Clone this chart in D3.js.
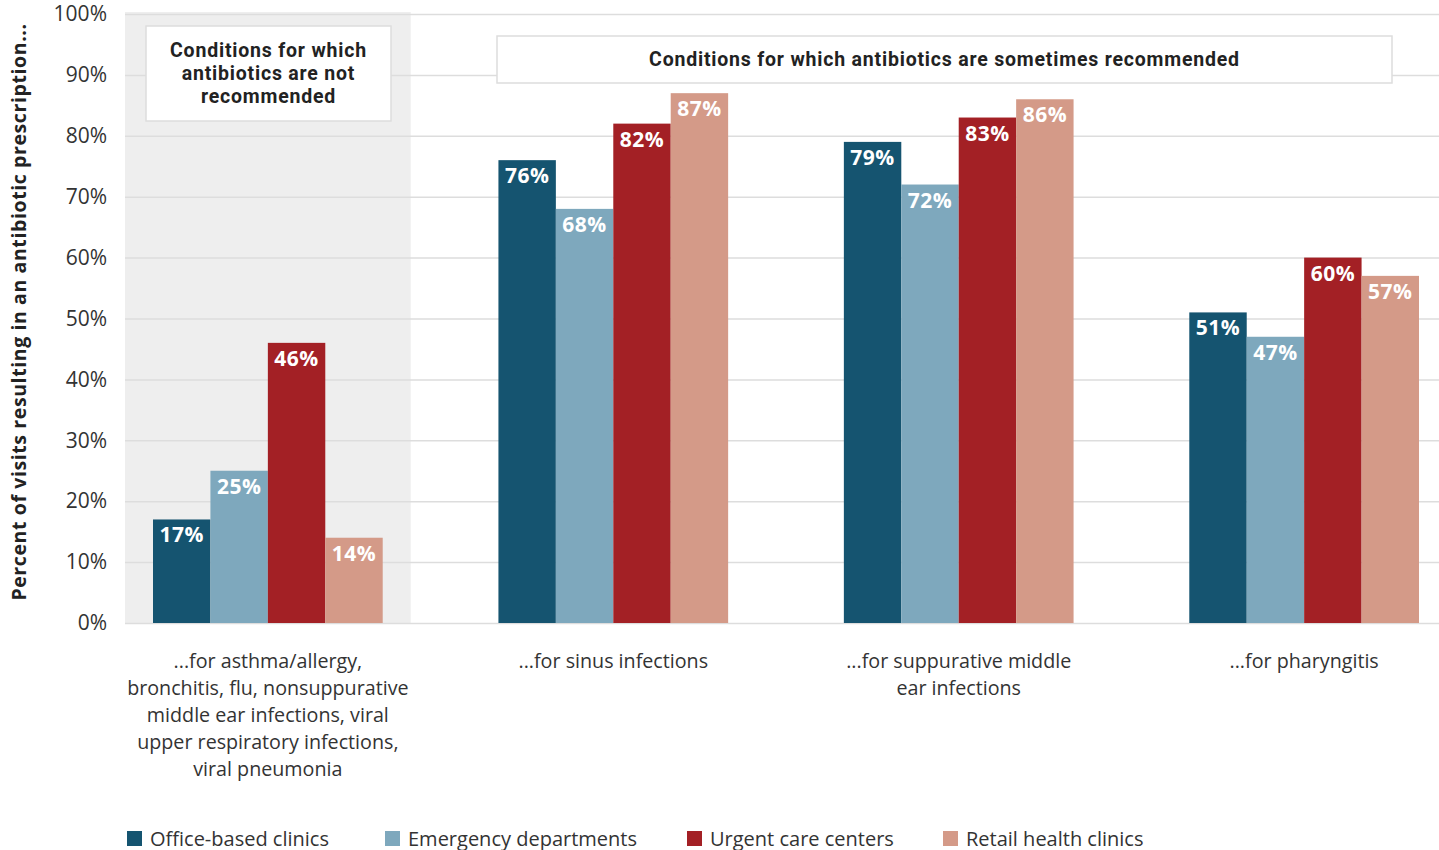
<!DOCTYPE html>
<html><head><meta charset="utf-8">
<script src="https://cdn.jsdelivr.net/npm/d3@7"></script>
<style>
body{margin:0;background:#fff;}
svg{display:block;font-family:"Open Sans", Lato, sans-serif;}
</style></head>
<body><svg id="c" width="1439" height="850"></svg>
<script>
const categories = [
  ["...for asthma/allergy,","bronchitis, flu, nonsuppurative","middle ear infections, viral","upper respiratory infections,","viral pneumonia"],
  ["...for sinus infections"],
  ["...for suppurative middle","ear infections"],
  ["...for pharyngitis"]
];
const seriesNames = ["Office-based clinics","Emergency departments","Urgent care centers","Retail health clinics"];
const officeBased = [17, 76, 79, 51];
const emergency = [25, 68, 72, 47];
const urgentCare = [46, 82, 83, 60];
const retail = [14, 87, 86, 57];
const yTicks = [0,10,20,30,40,50,60,70,80,90,100];
const colors = ["#155470","#7ea8bd","#a32025","#d49a88"];
const series = [officeBased, emergency, urgentCare, retail];

const svg = d3.select("#c");
const pLeft = 125, pRight = 1439, pTop = 14, pBottom = 623;
const x0 = d3.scaleBand().domain(d3.range(categories.length)).range([153,1419]).paddingInner(0.335).paddingOuter(0);
const x1 = d3.scaleBand().domain(d3.range(series.length)).range([0, x0.bandwidth()]);
const y = d3.scaleLinear().domain([0,100]).range([pBottom, pTop]);

// shaded region for "not recommended"
svg.append("rect").attr("x", pLeft).attr("y", y(100)-2).attr("width", x0(0)+x0.bandwidth()+28-pLeft).attr("height", y(0)-y(100)+2).attr("fill","#eeeeee");

// grid + y axis
const yAxis = d3.axisLeft(y).tickValues(yTicks).tickFormat(d=>d+"%").tickSize(-(pRight-pLeft)).tickPadding(18);
const ga = svg.append("g").attr("transform",`translate(${pLeft},0)`).call(yAxis);
ga.select(".domain").remove();
ga.selectAll(".tick line").attr("stroke","#dddddd").attr("stroke-width",1.5);
ga.selectAll(".tick text").attr("fill","#333").style("font-size","21px").style("font-family","'Open Sans', sans-serif");

// y axis title
svg.append("text").attr("transform",`translate(26,312) rotate(-90)`).attr("text-anchor","middle")
  .attr("fill","#222").style("font-size","19.5px").style("font-weight","bold").style("letter-spacing","0.6px")
  .text("Percent of visits resulting in an antibiotic prescription...");

// bars
const groups = svg.append("g").selectAll("g").data(categories).join("g").attr("transform",(d,i)=>`translate(${x0(i)},0)`);
series.forEach((s,si)=>{
  groups.append("rect").attr("x",x1(si)).attr("y",(d,i)=>y(s[i])).attr("width",x1.bandwidth()).attr("height",(d,i)=>y(0)-y(s[i])).attr("fill",colors[si]);
  groups.append("text").attr("x",x1(si)+x1.bandwidth()/2).attr("y",(d,i)=>y(s[i])+23).attr("text-anchor","middle")
    .attr("fill","#fff").style("font-size","21px").style("font-weight","bold").style("letter-spacing","0.5px")
    .text((d,i)=>s[i]+"%");
});

// category labels
const cl = svg.append("g").selectAll("text").data(categories).join("text")
  .attr("x",(d,i)=>x0(i)+x0.bandwidth()/2).attr("y",668).attr("text-anchor","middle").attr("fill","#333").style("font-size","19.7px");
cl.selectAll("tspan").data(d=>d).join("tspan").attr("x",function(){return this.parentNode.getAttribute("x");}).attr("dy",(d,i)=>i?27:0).text(d=>d);

// annotation boxes
function box(x,yy,w,h,lines,ty){
  svg.append("rect").attr("x",x).attr("y",yy).attr("width",w).attr("height",h).attr("fill","#fff").attr("stroke","#dddddd").attr("stroke-width",1.5);
  const t = svg.append("text").attr("x",x+w/2).attr("y",ty).attr("text-anchor","middle").attr("fill","#222")
    .style("font-family","Roboto, sans-serif").style("font-size","19.5px").style("font-weight","bold").style("letter-spacing","0.8px");
  lines.forEach((l,i)=>t.append("tspan").attr("x",x+w/2).attr("dy",i?23:0).text(l));
}
box(146,26,245,95,["Conditions for which","antibiotics are not","recommended"],57);
box(497,36,895,47,["Conditions for which antibiotics are sometimes recommended"],66);

// legend
const legX = [127,385,687,943];
const lg = svg.append("g").selectAll("g").data(seriesNames).join("g").attr("transform",(d,i)=>`translate(${legX[i]},831)`);
lg.append("rect").attr("width",15).attr("height",15).attr("fill",(d,i)=>colors[i]);
lg.append("text").attr("x",23).attr("y",14.5).attr("fill","#333").style("font-size","20px").text(d=>d);
</script></body></html>
